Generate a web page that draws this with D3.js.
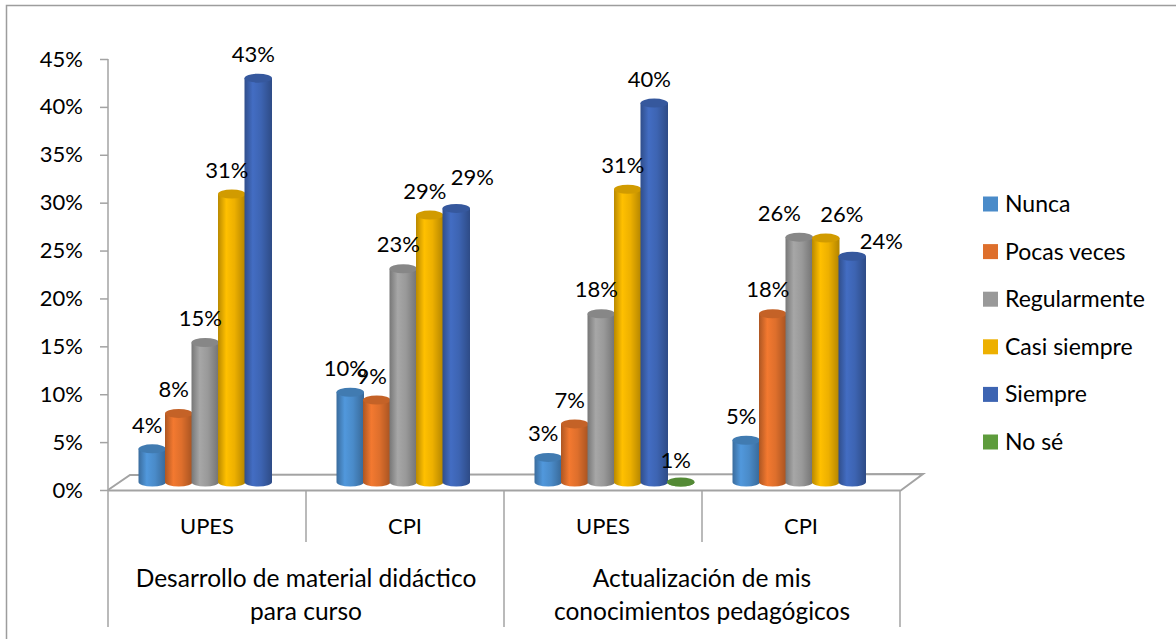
<meta charset="utf-8">
<body style="margin:0;background:#fff">
</body>
<script src="https://d3js.org/d3.v7.min.js"></script>
<script>
// categories, group labels and series
var categories = ["UPES", "CPI", "UPES", "CPI"];
var groupLines = [["Desarrollo de material didáctico", "para curso"],
                  ["Actualización de mis", "conocimientos pedagógicos"]];
var series = ["Nunca", "Pocas veces", "Regularmente", "Casi siempre", "Siempre", "No sé"];
var colors = ["#4A8BC9", "#DE6F2C", "#999999", "#EDB000", "#3D64B2", "#5E9C3C"];

var nunca     = [4.3, 10.2, 3.4, 5.2];
var pocas     = [8.0, 9.4, 6.9, 18.4];
var regular   = [15.4, 23.1, 18.4, 26.4];
var casi      = [30.9, 28.7, 31.4, 26.3];
var siempre   = [43.0, 29.4, 40.4, 24.4];
var nose      = [null, null, 0.6, null];
var values = [nunca, pocas, regular, casi, siempre, nose];

var yTicks = [0, 5, 10, 15, 20, 25, 30, 35, 40, 45];

// hand-moved data labels, like in the original (key: series-category)
var labelNudge = { "4-1": [21, -7], "2-3": [-15, 0], "3-3": [21, 0], "4-3": [34, 9] };

var font = "Lato, 'Open Sans', sans-serif";

var svg = d3.select("body").append("svg")
  .attr("width", 1176).attr("height", 639)
  .style("font-family", font);

// outer frame (goes off the picture at right and bottom)
svg.append("rect").attr("x", 6.5).attr("y", 5.5).attr("width", 1300).attr("height", 800)
  .attr("fill", "none").attr("stroke", "#9d9d9d").attr("stroke-width", 1.5);

var y = d3.scaleLinear().domain([0, 45]).range([490, 59]);
var x0 = d3.scaleBand().domain(d3.range(categories.length)).range([108, 900]);
var x1 = d3.scaleBand().domain(series).range([31, 31 + 159]);
var base = 482;
var grey = "#a3a3a3";

// gradients for cylinders
var defs = svg.append("defs");
colors.forEach(function(c, i) {
  var g = defs.append("linearGradient").attr("id", "g" + i)
    .attr("x1", "0%").attr("x2", "100%").attr("y1", "0%").attr("y2", "0%");
  var col = d3.color(c);
  g.append("stop").attr("offset", "0%").attr("stop-color", col.darker(0.7));
  g.append("stop").attr("offset", "30%").attr("stop-color", col.brighter(0.25));
  g.append("stop").attr("offset", "60%").attr("stop-color", col);
  g.append("stop").attr("offset", "100%").attr("stop-color", col.darker(0.8));
});

// floor
var floor = svg.append("g").attr("stroke", grey).attr("stroke-width", 2).attr("fill", "none");
floor.append("path").attr("d", "M108,490 L130,475 L923,474 L900,491");
floor.append("line").attr("x1", 108).attr("x2", 900).attr("y1", 490.5).attr("y2", 490.5);

// value axis
var yAxis = svg.append("g").attr("transform", "translate(108,0)")
  .call(d3.axisLeft(y).tickValues(yTicks).tickSize(8).tickPadding(17)
    .tickFormat(function(d) { return d + "%"; }));
yAxis.select(".domain").remove();
yAxis.selectAll(".tick line").attr("stroke", grey).attr("stroke-width", 1.5);
yAxis.selectAll("text").attr("font-size", 22).attr("font-family", font).attr("fill", "#000");
svg.append("line").attr("x1", 108).attr("x2", 108).attr("y1", 59).attr("y2", 627)
  .attr("stroke", grey).attr("stroke-width", 1.5);

// category dividers
d3.range(1, categories.length + 1).forEach(function(i) {
  var xx = i < categories.length ? x0(i) : 900;
  svg.append("line").attr("x1", xx).attr("x2", xx).attr("y1", 491).attr("y2", i % 2 === 0 ? 627 : 542)
    .attr("stroke", grey).attr("stroke-width", 1.5);
});

// bars
var bars = svg.append("g");
var labels = svg.append("g");
series.forEach(function(s, si) {
  values[si].forEach(function(v, ci) {
    if (v === null) return;
    var xl = x0(ci) + x1(s) - 0.5, w = x1.bandwidth() + 1;
    var rx = w / 2, ry = 4.5;
    var top = Math.min(y(v), base);
    var g = bars.append("g");
    g.append("path")
      .attr("d", "M" + xl + "," + top + " L" + xl + "," + base +
        " A" + rx + "," + ry + " 0 0 0 " + (xl + w) + "," + base +
        " L" + (xl + w) + "," + top + " Z")
      .attr("fill", "url(#g" + si + ")");
    g.append("ellipse").attr("cx", xl + rx).attr("cy", top).attr("rx", rx).attr("ry", ry)
      .attr("fill", d3.color(colors[si]).darker(0.35));
    var nudge = labelNudge[si + "-" + ci] || [0, 0];
    labels.append("text").attr("x", xl + rx - 5 + nudge[0]).attr("y", y(v) - 24 + nudge[1])
      .attr("dy", "0.35em").attr("text-anchor", "middle").attr("font-size", 22)
      .text(Math.round(v) + "%");
  });
});

// category labels
categories.forEach(function(c, i) {
  svg.append("text").attr("x", x0(i) + x0.bandwidth() / 2).attr("y", 526).attr("dy", "0.35em")
    .attr("text-anchor", "middle").attr("font-size", 22).text(c);
});
groupLines.forEach(function(lines, gi) {
  var cx = x0(gi * 2) + x0.bandwidth();
  lines.forEach(function(l, li) {
    svg.append("text").attr("x", cx).attr("y", 578 + li * 33).attr("dy", "0.35em")
      .attr("text-anchor", "middle").attr("font-size", 24.5).text(l);
  });
});

// legend
var legend = svg.append("g").attr("transform", "translate(983,204)");
series.forEach(function(s, i) {
  var row = legend.append("g").attr("transform", "translate(0," + (i * 47.6) + ")");
  row.append("rect").attr("x", 0).attr("y", -7.5).attr("width", 15).attr("height", 15)
    .attr("fill", colors[i]);
  row.append("text").attr("x", 22).attr("dy", "0.35em").attr("font-size", 23).text(s);
});
</script>
